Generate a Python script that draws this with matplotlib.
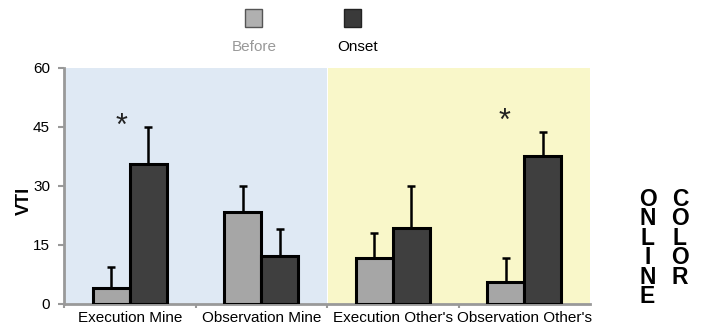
import matplotlib
matplotlib.use('Agg')
import matplotlib.pyplot as plt
import numpy as np

plt.rcParams['font.family'] = ['Liberation Sans', 'DejaVu Sans']

categories = ['Execution Mine', 'Observation Mine', "Execution Other's", "Observation Other's"]
before = [4.0, 23.5, 11.8, 5.5]
before_err = [5.3, 6.5, 6.2, 6.3]
onset = [35.6, 12.2, 19.4, 37.7]
onset_err = [9.4, 6.8, 10.6, 6.1]
yticks = [0, 15, 30, 45, 60]

c_before = '#a6a6a6'
c_onset = '#3f3f3f'

fig = plt.figure(figsize=(7.01, 3.31), dpi=100)
ax = fig.add_axes([0.0913, 0.0816, 0.7504, 0.713])

x = np.arange(len(categories))
w = 0.28

ax.axvspan(-0.5, 1.5, color='#dfe9f4', lw=0, zorder=0)
ax.axvspan(1.51, 3.5, color='#f9f7c9', lw=0, zorder=0)

ax.bar(x - w/2, before, w, color=c_before, edgecolor='black', linewidth=2.2, zorder=3)
ax.bar(x + w/2, onset, w, color=c_onset, edgecolor='black', linewidth=2.2, zorder=3)
# upward-only error bars
ax.errorbar(x - w/2, before, yerr=[np.zeros(4), before_err], fmt='none', ecolor='black',
            elinewidth=1.8, capsize=3, capthick=1.8, zorder=2)
ax.errorbar(x + w/2, onset, yerr=[np.zeros(4), onset_err], fmt='none', ecolor='black',
            elinewidth=1.8, capsize=3, capthick=1.8, zorder=2)

ax.text(-0.065, 45.0, '*', fontsize=22, ha='center', va='center', color='#222222')
ax.text(2.85, 46.3, '*', fontsize=22, ha='center', va='center', color='#222222')

ax.set_xlim(-0.5, 3.5)
ax.set_ylim(0, 60)
ax.set_yticks(yticks)
ax.set_yticklabels([str(t) for t in yticks], fontsize=11)
ax.set_xticks(np.arange(-0.5, 3.0, 1.0))
ax.set_xticklabels([])
ax.set_xticks(x, minor=True)
ax.set_xticklabels(categories, minor=True, fontsize=11)
ax.tick_params(axis='x', which='minor', length=0, pad=5)
ax.tick_params(axis='x', which='major', length=3, color='#999999', width=1.5)
ax.tick_params(axis='y', length=4, color='#999999', width=1.5, pad=6)

for s in ['top', 'right']:
    ax.spines[s].set_visible(False)
for s in ['left', 'bottom']:
    ax.spines[s].set_color('#999999')
    ax.spines[s].set_linewidth(2)

ax.set_ylabel('VTI', fontsize=13, fontweight='bold')
ax.yaxis.set_label_coords(-0.06, 0.436)

# legend drawn at top
fig.patches.append(plt.Rectangle((245/701, 1 - 27/331), 17/701, 18/331, transform=fig.transFigure,
                                 facecolor='#b0b0b0', edgecolor='#555555', lw=1))
fig.patches.append(plt.Rectangle((344/701, 1 - 27/331), 17/701, 18/331, transform=fig.transFigure,
                                 facecolor='#3a3a3a', edgecolor='#222222', lw=1))
fig.text(254/701, 1 - 47/331, 'Before', fontsize=11, color='#999999', ha='center', va='center')
fig.text(358/701, 1 - 47/331, 'Onset', fontsize=11, color='black', ha='center', va='center')

# vertical ONLINE COLOR text
for col_x, word in [(647.5, 'ONLINE'), (680, 'COLOR')]:
    fig.text(col_x/701, 1 - 188/331, '\n'.join(word), fontsize=16.5, fontweight='bold',
             family=['Liberation Sans Narrow', 'Liberation Sans'], linespacing=0.8,
             ha='center', va='top', color='black')

fig.savefig('out.png', dpi=100)
